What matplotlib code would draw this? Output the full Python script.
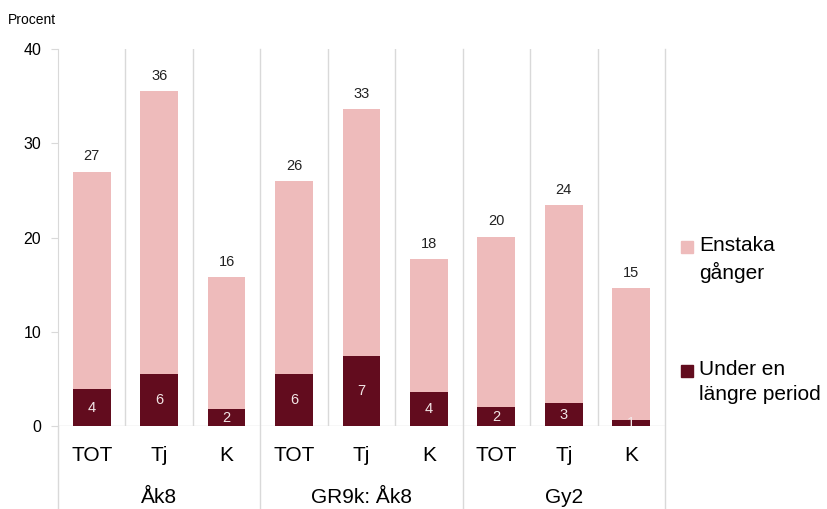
import matplotlib
matplotlib.use("Agg")
from matplotlib import pyplot as plt
from matplotlib.patches import Rectangle
import matplotlib.transforms as mtransforms
import numpy as np

plt.rcParams['font.family'] = ['Liberation Sans', 'DejaVu Sans']

# data
groups = ["Åk8", "GR9k: Åk8", "Gy2"]
categories = ["TOT", "Tj", "K"] * 3
langre = [3.9, 5.5, 1.8, 5.5, 7.4, 3.6, 2.0, 2.4, 0.6]
enstaka = [23.1, 30.0, 14.0, 20.5, 26.2, 14.1, 18.1, 21.0, 14.0]
langre_labels = ["4", "6", "2", "6", "7", "4", "2", "3", "1"]
total_labels = ["27", "36", "16", "26", "33", "18", "20", "24", "15"]
yticks = [0, 10, 20, 30, 40]

light = "#EEBBBB"
dark = "#620C1E"
grid = "#D9D9D9"

fig = plt.figure(figsize=(8.27, 5.09), dpi=100)
ax = fig.add_axes([0.0701, 0.163, 0.7340, 0.7407])

x = np.arange(len(categories))
w = 0.56
ax.bar(x, langre, w, color=dark, zorder=2)
ax.bar(x, enstaka, w, bottom=langre, color=light, zorder=2)

ax.set_xlim(-0.5, len(categories) - 0.5)
ax.set_ylim(0, 40)
ax.set_yticks(yticks)
ax.tick_params(axis='y', length=5, color=grid, pad=7, labelsize=11.5)
ax.set_xticks([])
for s in ["top", "right", "bottom"]:
    ax.spines[s].set_visible(False)
ax.spines["left"].set_color(grid)
ax.axhline(0, color=grid, lw=1, zorder=1)

# separators between bars, longer ones between groups
trans = mtransforms.blended_transform_factory(ax.transData, ax.transAxes)
for i in range(1, len(categories)):
    xs = i - 0.5
    if i % 3 == 0:
        ax.plot([xs, xs], [1, -0.23], color=grid, lw=1, transform=trans, clip_on=False, zorder=1)
    else:
        ax.plot([xs, xs], [0, 1], color=grid, lw=1, transform=trans, zorder=1)
ax.plot([-0.5, -0.5], [0, -0.23], color=grid, lw=1, transform=trans, clip_on=False)
ax.plot([8.5, 8.5], [1, -0.23], color=grid, lw=1, transform=trans, clip_on=False)

for i in range(len(categories)):
    tot = langre[i] + enstaka[i]
    ax.annotate(total_labels[i], (x[i], tot), xytext=(0, 6), textcoords="offset points",
                ha="center", va="bottom", fontsize=10.5, color="#222222")
    ax.text(x[i], langre[i] / 2, langre_labels[i], ha="center", va="center",
            fontsize=10.5, color="#F2E6E6", clip_on=True, zorder=3)
    ax.text(x[i], -0.077, categories[i], transform=trans, ha="center", va="center", fontsize=15)

for g, name in enumerate(groups):
    ax.text(g * 3 + 1, -0.19, name, transform=trans, ha="center", va="center", fontsize=15)

fig.text(8 / 827, 1 - 20 / 509, "Procent", ha="left", va="center", fontsize=10)

# legend
legend_items = [(light, "Enstaka\ngånger", 247), (dark, "Under en\nlängre period", 371)]
for col, lab, ypx in legend_items:
    fig.patches.append(Rectangle((681 / 827, 1 - (ypx + 6) / 509), 12 / 827, 12 / 509,
                                 transform=fig.transFigure, color=col))
    fig.text(699 / 827, 1 - (ypx - 11) / 509, lab, ha="left", va="top", fontsize=15,
             linespacing=1.4)

fig.savefig("out.png", dpi=100)
